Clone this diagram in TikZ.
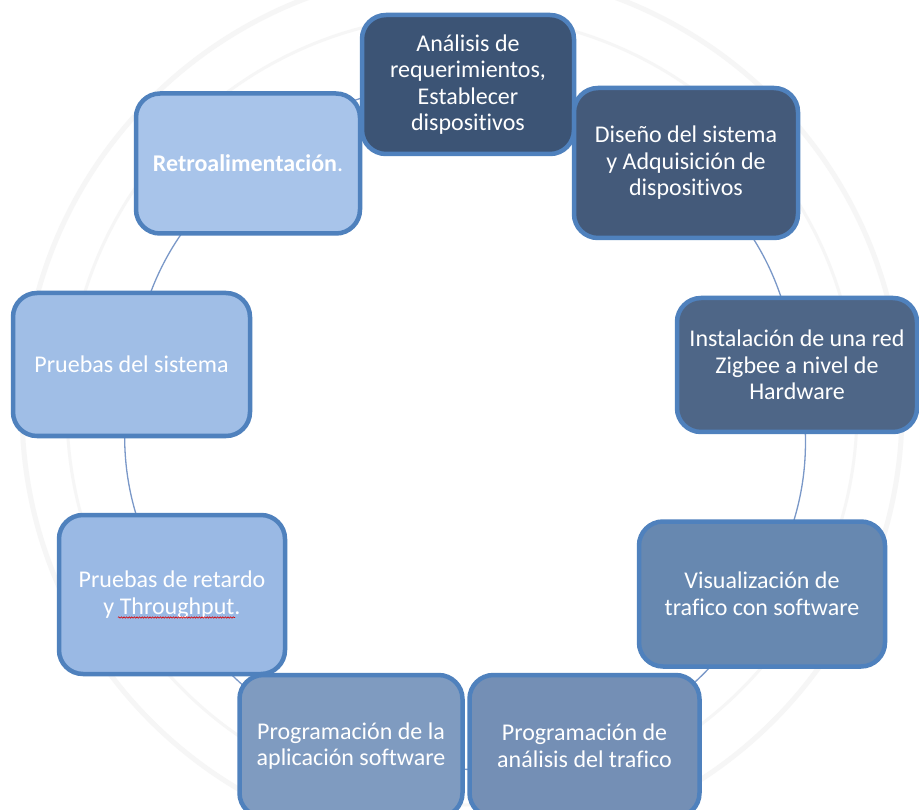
\documentclass[tikz,border=0pt]{standalone}
\usepackage{fontspec}
\setmainfont{Carlito}[Ligatures=NoCommon]
\usetikzlibrary{backgrounds,decorations.pathmorphing}

\definecolor{edgeblue}{HTML}{4F81BD}
\definecolor{linkblue}{HTML}{7A98C8}
\definecolor{cA}{HTML}{3C5475}
\definecolor{cB}{HTML}{445A7A}
\definecolor{cC}{HTML}{4E6687}
\definecolor{cD}{HTML}{6788B0}
\definecolor{cE}{HTML}{748FB5}
\definecolor{cF}{HTML}{7F9BC0}
\definecolor{cG}{HTML}{9AB9E4}
\definecolor{cH}{HTML}{A0BEE6}
\definecolor{cI}{HTML}{A8C4EA}
\definecolor{sealgray}{HTML}{F6F6F6}

\tikzset{
  stage/.style={draw=edgeblue, line width=4.5pt, rounded corners=24pt,
    text=white, align=center, inner sep=0pt,
    font=\fontsize{24}{26.5}\selectfont},
  link/.style={draw=linkblue, line width=1.3pt},
}

\begin{document}
\begin{tikzpicture}[x=1pt, y=-1pt]
\useasboundingbox (0,0) rectangle (919,810);

% process stages (outer edge sizes minus the border width)
\node[stage, fill=cA, minimum width=212pt, minimum height=139pt] (req) at (468,84.5)
  {Análisis de\\requerimientos,\\Establecer\\dispositivos};
\node[stage, fill=cB, minimum width=224pt, minimum height=150pt] (dis) at (686,163)
  {Diseño del sistema\\y Adquisición de\\dispositivos};
\node[stage, fill=cC, minimum width=240pt, minimum height=134pt] (ins) at (797,365)
  {Instalación de una red\\Zigbee a nivel de\\Hardware};
\node[stage, fill=cD, minimum width=246pt, minimum height=145pt] (vis) at (762,594)
  {Visualización de\\trafico con software};
\node[stage, fill=cE, minimum width=230pt, minimum height=142pt] (pan) at (584.5,746)
  {Programación de\\análisis del trafico};
\node[stage, fill=cF, minimum width=223pt, minimum height=142pt] (pap) at (351,746)
  {Programación de la\\aplicación software};
\node[stage, fill=cG, minimum width=226pt, minimum height=159pt] (ret) at (172,594.5)
  {Pruebas de retardo\\y Throughput.};
\node[stage, fill=cH, minimum width=237pt, minimum height=143pt] (sis) at (131.5,364.5)
  {Pruebas del sistema};
\node[stage, fill=cI, minimum width=224pt, minimum height=140pt] (rea) at (248,163.5)
  {\textbf{Retroalimentación}.};

% spell-check squiggle under "Throughput"
\draw[red!85!black, line width=0.6pt, decorate,
      decoration={snake, amplitude=0.7pt, segment length=2.6pt}]
  ([xshift=-54pt, yshift=-23pt]ret.center) -- ([xshift=63pt, yshift=-23pt]ret.center);

\begin{scope}[on background layer]
  % paper and faint seal rings
  \fill[white] (0,0) rectangle (919,810);
  \draw[sealgray, line width=5pt] (462,410) circle (440);
  \draw[sealgray, line width=3pt] (462,410) circle (395);
  % cycle connectors, behind the stages
  \foreach \a/\b in {req/dis, dis/ins, ins/vis, vis/pan, pan/pap,
                     pap/ret, ret/sis, sis/rea, rea/req}
    \draw[link] (\a.center) to[bend left=20] (\b.center);
\end{scope}
\end{tikzpicture}
\end{document}
